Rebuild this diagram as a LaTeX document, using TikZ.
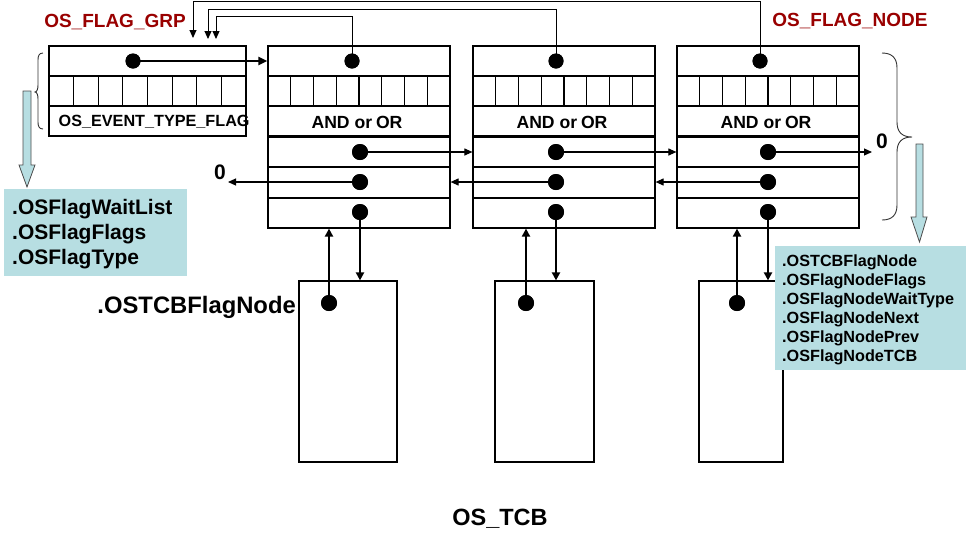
\documentclass[tikz,border=0pt]{standalone}
\usepackage{fontspec}
\setmainfont{Liberation Sans}
\usetikzlibrary{arrows.meta,calc}
\definecolor{darkred}{RGB}{153,0,0}
\definecolor{lblue}{RGB}{183,222,226}
\begin{document}
\begin{tikzpicture}[x=1pt,y=-1pt,
  rowbox/.style={draw,line width=1.2pt,inner sep=0,minimum width=182,minimum height=30},
  grpbox/.style={draw,line width=1.2pt,inner sep=0,minimum width=197,minimum height=30},
  tcbbox/.style={draw,line width=1.2pt,inner sep=0},
  dot/.style={circle,fill=black,inner sep=0,minimum size=16},
  tdot/.style={circle,fill=black,inner sep=0,minimum size=15},
  thinarr/.style={line width=1.1pt,-{Triangle[length=8pt,width=7pt]}},
  wire/.style={line width=1pt,-{Triangle[length=8pt,width=7pt]}},
  thickarr/.style={line width=2.4pt,-{Triangle[length=8pt,width=8pt]}},
  grparr/.style={line width=2pt,-{Triangle[length=9pt,width=8pt]}},
  hollow/.style={fill=lblue,draw=black!70,line width=0.8pt},
  lbl/.style={font=\bfseries\fontsize{17.6}{22}\selectfont,inner sep=0},
  redlbl/.style={font=\bfseries\fontsize{19}{22}\selectfont,text=darkred,inner sep=0},
  zero/.style={font=\bfseries\fontsize{21}{24}\selectfont,inner sep=0},
  bluebox/.style={fill=lblue,draw=none}]
\useasboundingbox (0,0) rectangle (966,547);

% ---------- OS_FLAG_GRP ----------
\node[grpbox] (g1) at (147.5,61) {};
\node[grpbox] (g2) at (147.5,91) {};
\node[grpbox] (g3) at (147.5,121) {};
\foreach \k in {1,...,7} \draw[line width=1.2pt] ({49+\k*197/8},76) -- ({49+\k*197/8},106);
\node[font=\bfseries\fontsize{16.2}{19}\selectfont,inner sep=0,anchor=west] (evt) at (58.5,122) {OS\_EVENT\_TYPE\_FLAG};

% ---------- OS_FLAG_NODEs ----------
\foreach \i/\x/\tx/\dx in {1/268/352/360, 2/473/556/556, 3/677/760/768} {
  \node[rowbox] (n\i r1) at ({\x+91},61) {};
  \node[rowbox] (n\i r2) at ({\x+91},91) {};
  \node[rowbox] (n\i r3) at ({\x+91},121) {};
  \node[rowbox] (n\i r4) at ({\x+91},152) {};
  \node[rowbox,minimum height=31] (n\i r5) at ({\x+91},182.5) {};
  \node[rowbox] (n\i r6) at ({\x+91},213) {};
  \foreach \k in {1,...,7} \draw[line width=1.2pt] ({\x+\k*182/8},76) -- ({\x+\k*182/8},106);
  \node[lbl] (ao\i) at ({\x+89},122) {AND or\kern-1pt\ OR};
  \node[tdot] (t\i) at (\tx,61) {};
  \node[dot] (a\i) at (\dx,152) {};
  \node[dot] (b\i) at (\dx,182) {};
  \node[dot] (c\i) at (\dx,212) {};
}

% ---------- OS_TCBs ----------
\node[tcbbox,minimum width=98,minimum height=181] (tcb1) at (348,371.5) {};
\node[tcbbox,minimum width=99,minimum height=181] (tcb2) at (544.5,371.5) {};
\node[tcbbox,minimum width=84,minimum height=181] (tcb3) at (741,371.5) {};
\node[dot] (u1) at (329,303) {};
\node[dot] (u2) at (526,303) {};
\node[dot] (u3) at (737,303) {};

% ---------- labels ----------
\node[redlbl] (grplbl) at (115,22) {OS\_FLAG\_GRP};
\node[redlbl] (nodelbl) at (850,21) {OS\_FLAG\_NODE};
\node[font=\bfseries\fontsize{23.8}{26}\selectfont,inner sep=0,anchor=east] (tcbfn) at (296,307) {.OSTCBFlagNode};
\node[font=\bfseries\fontsize{23.5}{26}\selectfont,inner sep=0] (tcblbl) at (500,519) {OS\_TCB};
\node[zero] (zl) at (220,172) {0};
\node[zero] (zr) at (882,141) {0};
\coordinate (zle) at (228,182);
\coordinate (zre) at (872,152);

% ---------- connectors ----------
\node[tdot] (gd) at (133,61) {};
\draw[grparr] (gd.center) -- (n1r1.west);
\node[tdot] at (gd) {};

\coordinate (w1) at (193,38);
\coordinate (w2) at (208,39);
\coordinate (w3) at (216,39);
\draw[wire] (t3.center) -- ++(0,-60) -| (w1);
\draw[wire] (t2.center) -- ++(0,-52) -| (w2);
\draw[wire] (t1.center) -- ++(0,-45) -| (w3);

\draw[thinarr] (a1.center) -- (n2r4.west);
\draw[thinarr] (a2.center) -- (n3r4.west);
\draw[thinarr] (a3.center) -- (zre);
\draw[thinarr] (b3.center) -- (b3.center -| n2r5.east);
\draw[thinarr] (b2.center) -- (b2.center -| n1r5.east);
\draw[thinarr] (b1.center) -- (zle);

\draw[thickarr] (u1.center) -- (u1.center |- n1r6.south);
\draw[thickarr] (u2.center) -- (u2.center |- n2r6.south);
\draw[thickarr] (u3.center) -- (u3.center |- n3r6.south);
\draw[thickarr] (c1.center) -- (c1.center |- tcb1.north);
\draw[thickarr] (c2.center) -- (c2.center |- tcb2.north);
\draw[thickarr] (c3.center) -- (c3.center |- tcb3.north);
\foreach \i in {1,2,3} {
  \node[tdot] at (t\i) {};
  \node[dot] at (a\i) {};
  \node[dot] at (b\i) {};
  \node[dot] at (c\i) {};
  \node[dot] at (u\i) {};
}

% ---------- braces ----------
\draw[line width=0.9pt,black!80] (43,53) .. controls (39,53) and (38,56) .. (38,60) -- (38,85)
  .. controls (38,89) and (37,92) .. (35,92) .. controls (37,92) and (38,95) .. (38,99)
  -- (38,122) .. controls (38,126) and (39,129) .. (43,129);
\draw[line width=0.9pt,black!80] (882,53) .. controls (892,53) and (897,58) .. (897,68) -- (897,122)
  .. controls (897,132) and (902,137) .. (912,137) .. controls (902,137) and (897,142) .. (897,152)
  -- (897,205) .. controls (897,215) and (892,220) .. (882,220);

% ---------- hollow arrows ----------
\draw[hollow] (23,91) -- (31,91) -- (31,165) -- (35,165) -- (27,187) -- (19,165) -- (23,165) -- cycle;
\draw[hollow] (916,144) -- (923,144) -- (923,217) -- (927,217) -- (919.5,242) -- (911,217) -- (916,217) -- cycle;

% ---------- blue boxes ----------
\fill[bluebox] (4,189) rectangle (187,276);
\node[font=\bfseries\fontsize{21}{25}\selectfont,inner sep=0,anchor=west,align=left] (leftlist) at (12,234)
  {.OSFlagWaitList\\.OSFlagFlags\\.OSFlagType};
\fill[bluebox] (775,246) rectangle (966,370);
\node[font=\bfseries\fontsize{16.2}{19}\selectfont,inner sep=0,anchor=west,align=left] (rightlist) at (782,310)
  {.OSTCBFlagNode\\.OSFlagNodeFlags\\.OSFlagNodeWaitType\\.OSFlagNodeNext\\.OSFlagNodePrev\\.OSFlagNodeTCB};
\end{tikzpicture}
\end{document}
